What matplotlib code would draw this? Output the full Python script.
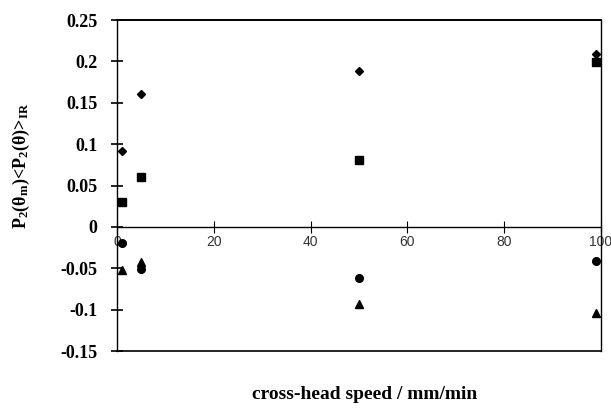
import numpy as np
import matplotlib
matplotlib.use("Agg")
import matplotlib.pyplot as plt

# Data
speed = [1, 5, 50, 99]
diamonds = [0.092, 0.161, 0.189, 0.209]
squares = [0.030, 0.060, 0.081, 0.199]
circles = [-0.020, -0.051, -0.062, -0.041]
triangles = [-0.052, -0.042, -0.093, -0.104]

xticks = [0, 20, 40, 60, 80, 100]
yticks = [-0.15, -0.1, -0.05, 0, 0.05, 0.1, 0.15, 0.2, 0.25]
yticklabels = ["-0.15", "-0.1", "-0.05", "0", "0.05", "0.1", "0.15", "0.2", "0.25"]

plt.rcParams["mathtext.fontset"] = "custom"
plt.rcParams["mathtext.rm"] = "Liberation Serif:bold"
plt.rcParams["mathtext.it"] = "Liberation Serif:bold"
plt.rcParams["mathtext.default"] = "rm"

fig = plt.figure(figsize=(6.11, 4.13), dpi=100)
ax = fig.add_axes([0.1915, 0.150, 0.792, 0.8015])

ax.plot(speed, diamonds, linestyle="none", marker="D", ms=4.5, color="black")
ax.plot(speed, squares, linestyle="none", marker="s", ms=5.5, color="black")
ax.plot(speed, circles, linestyle="none", marker="o", ms=5.5, color="black")
ax.plot(speed, triangles, linestyle="none", marker="^", ms=6, color="black")

ax.set_xlim(0, 100)
ax.set_ylim(-0.15, 0.25)

# x axis runs along y = 0, box closed at the bottom
ax.spines["bottom"].set_position(("data", 0))
ax.axhline(-0.15, color="black", lw=1.2, clip_on=False)
for s in ["left", "top", "right", "bottom"]:
    ax.spines[s].set_linewidth(1.0)
ax.spines["top"].set_linewidth(1.4)

ax.set_xticks(xticks)
ax.set_xticklabels([str(t) for t in xticks], fontfamily="Liberation Sans",
                   fontsize=10, color="#333333")
ax.tick_params(axis="x", direction="inout", length=8, width=0.8, pad=2)

ax.set_yticks(yticks)
ax.set_yticklabels(yticklabels, fontfamily="Liberation Serif",
                   fontweight="bold", fontsize=13)
ax.tick_params(axis="y", direction="inout", length=8, width=1.2, pad=10)

ax.set_ylabel(r"P$_2$($\theta_{\rm m}$)<P$_2$($\theta$)>$_{\rm IR}$",
              fontfamily="Liberation Serif", fontweight="bold", fontsize=13)
ax.yaxis.set_label_coords(-0.175, 0.56)
fig.text(0.596, 0.044, "cross-head speed / mm/min", ha="center", va="center",
         fontfamily="Liberation Serif", fontweight="bold", fontsize=14)

fig.savefig("out.png", dpi=100)
